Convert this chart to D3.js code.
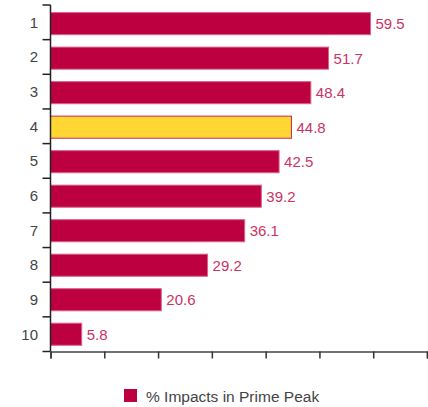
<!DOCTYPE html>
<html>
<head>
<meta charset="utf-8">
<style>
  body {margin: 0; background: #fff;}
  svg {display: block;}
  text {font-family: "Liberation Sans", Arial, sans-serif;}
</style>
</head>
<body>
<svg id="svg" width="428" height="407"></svg>
<script src="https://d3js.org/d3.v7.min.js"></script>
<script>
var ranks = ["1", "2", "3", "4", "5", "6", "7", "8", "9", "10"];
var values = [59.5, 51.7, 48.4, 44.8, 42.5, 39.2, 36.1, 29.2, 20.6, 5.8];
var highlighted = ["4"];
var xTicks = [0, 10, 20, 30, 40, 50, 60, 70];
var seriesName = "% Impacts in Prime Peak";

var data = ranks.map(function(r, i) { return {rank: r, value: values[i]}; });

var margin = {top: 5, left: 50.5, right: 1, bottom: 55},
    width = 428, height = 407;

var svg = d3.select("#svg");

var x = d3.scaleLinear().domain([0, 70]).range([margin.left, 427]);
var y = d3.scaleBand().domain(ranks).range([margin.top, 351.5]).paddingInner(0.36).paddingOuter(0.2).align(0.55);

// bars
svg.append("g").selectAll("rect")
  .data(data)
  .enter().append("rect")
  .attr("x", x(0))
  .attr("y", function(d) { return y(d.rank); })
  .attr("width", function(d) { return x(d.value) - x(0); })
  .attr("height", y.bandwidth())
  .attr("fill", function(d) { return highlighted.indexOf(d.rank) >= 0 ? "#ffd632" : "#bd0040"; })
  .attr("stroke", function(d) { return highlighted.indexOf(d.rank) >= 0 ? "#c8265a" : "#d8638a"; })
  .attr("stroke-width", 1);

// value labels
svg.append("g").selectAll("text")
  .data(data)
  .enter().append("text")
  .attr("x", function(d) { return x(d.value) + 5; })
  .attr("y", function(d) { return y(d.rank) + y.bandwidth() / 2; })
  .attr("dy", "0.36em")
  .attr("fill", "#cc3363")
  .style("font-size", "15px")
  .text(function(d) { return d.value.toFixed(1); });

// y axis with ticks at band boundaries
var yAxisG = svg.append("g").attr("transform", "translate(" + x(0) + ",0)");
var step = (351.5 - margin.top) / ranks.length;
var bounds = d3.range(ranks.length + 1).map(function(i) { return margin.top + i * step; });
yAxisG.append("line")
  .attr("x1", 0).attr("x2", 0)
  .attr("y1", bounds[0]).attr("y2", bounds[bounds.length - 1])
  .attr("stroke", "#222").attr("stroke-width", 1.5);
yAxisG.selectAll("line.tick")
  .data(bounds)
  .enter().append("line")
  .attr("class", "tick")
  .attr("x1", -8).attr("x2", 0)
  .attr("y1", function(d) { return d; }).attr("y2", function(d) { return d; })
  .attr("stroke", "#222").attr("stroke-width", 1.5);
yAxisG.selectAll("text")
  .data(ranks)
  .enter().append("text")
  .attr("x", -12.5)
  .attr("y", function(d, i) { return margin.top + (i + 0.5) * step; })
  .attr("dy", "0.36em")
  .attr("text-anchor", "end")
  .attr("fill", "#444")
  .style("font-size", "15px")
  .text(function(d) { return d; });

// x axis, ticks without labels
var xAxis = d3.axisBottom(x).tickValues(xTicks).tickSize(7).tickFormat("");
var xAxisG = svg.append("g")
  .attr("transform", "translate(0," + bounds[bounds.length - 1] + ")")
  .call(xAxis);
xAxisG.select(".domain").attr("stroke", "#444").attr("stroke-width", 1.5);
xAxisG.selectAll(".tick line").attr("stroke", "#333").attr("stroke-width", 1.5);

// legend
var legend = svg.append("g").attr("transform", "translate(124,389)");
legend.append("rect")
  .attr("width", 13).attr("height", 13)
  .attr("fill", "#bd0040");
legend.append("text")
  .attr("x", 22).attr("y", 13)
  .attr("fill", "#444")
  .style("font-size", "15.5px")
  .text(seriesName);
</script>
</body>
</html>
